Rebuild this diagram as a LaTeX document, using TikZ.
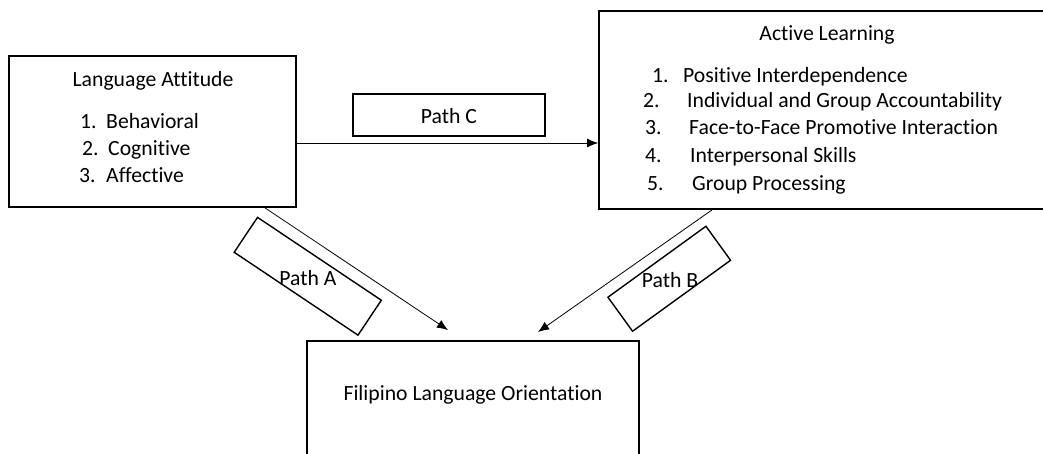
\documentclass[tikz,border=0pt]{standalone}
\usepackage{fontspec}
\setmainfont{Carlito}[Ligatures={NoCommon}]
\usetikzlibrary{arrows.meta}
\begin{document}
\begin{tikzpicture}[x=1pt,y=-1pt,
  box/.style={draw,line width=1.8pt,inner sep=0pt},
  pbox/.style={draw,line width=1.4pt,inner sep=0pt,minimum height=42pt},
  txt/.style={font=\fontsize{21.7}{26}\selectfont,inner sep=0pt},
  item/.style={txt,anchor=base west},
  arr/.style={-{Latex[length=11pt,width=9pt]},line width=0.8pt}]
\useasboundingbox (0,0) rectangle (1043,453);
\clip (0,0) rectangle (1043,453);
% Language Attitude box
\node[box,minimum width=287pt,minimum height=151pt] (la) at (152.5,131.5) {};
\node[txt,anchor=base] (lat) at (153,86) {Language Attitude};
\node[item] (la1n) at (80,128) {1.};
\node[item] (la1) at (106,128) {Behavioral};
\node[item] (la2n) at (82,155) {2.};
\node[item] (la2) at (108,155) {Cognitive};
\node[item] (la3n) at (79,182) {3.};
\node[item] (la3) at (106,182) {Affective};
% Active Learning box
\node[box,minimum width=451pt,minimum height=198pt] (al) at (824.5,110) {};
\node[txt,anchor=base] (alt) at (827,40) {Active Learning};
\node[item] (al1n) at (652,82) {1.};
\node[item] (al1) at (683,82) {Positive Interdependence};
\node[item] (al2n) at (643,107) {2.};
\node[item] (al2) at (687,107) {Individual and Group Accountability};
\node[item] (al3n) at (645,134) {3.};
\node[item] (al3) at (689,134) {Face-to-Face Promotive Interaction};
\node[item] (al4n) at (645,162) {4.};
\node[item] (al4) at (690,162) {Interpersonal Skills};
\node[item] (al5n) at (647,190) {5.};
\node[item] (al5) at (692,190) {Group Processing};
% Filipino Language Orientation box
\node[box,minimum width=332pt,minimum height=140pt] (flo) at (473,411) {};
\node[txt,anchor=base] (flot) at (473,400) {Filipino Language Orientation};
% Path C
\node[box,line width=1.6pt,minimum width=192pt,minimum height=42pt] (pc) at (449,115) {};
\node[txt,anchor=base] (pct) at (449,123) {Path C};
\draw[arr] (la.east |- 0,143) -- (al.west |- 0,143);
% Path A
\node[pbox,minimum width=149pt,rotate=-33.8] (pa) at (307.75,276.25) {};
\node[txt,anchor=base] (pat) at (308,285) {Path A};
\coordinate (ea) at (448,330);
\draw[arr] (la.south -| 265,0) -- (ea);
% Path B
\node[pbox,minimum width=121pt,rotate=35.9] (pb) at (669.25,278.75) {};
\node[txt,anchor=base] (pbt) at (670,287) {Path B};
\coordinate (eb) at (538,332);
\draw[arr] (al.south -| 712,0) -- (eb);
\end{tikzpicture}
\end{document}
